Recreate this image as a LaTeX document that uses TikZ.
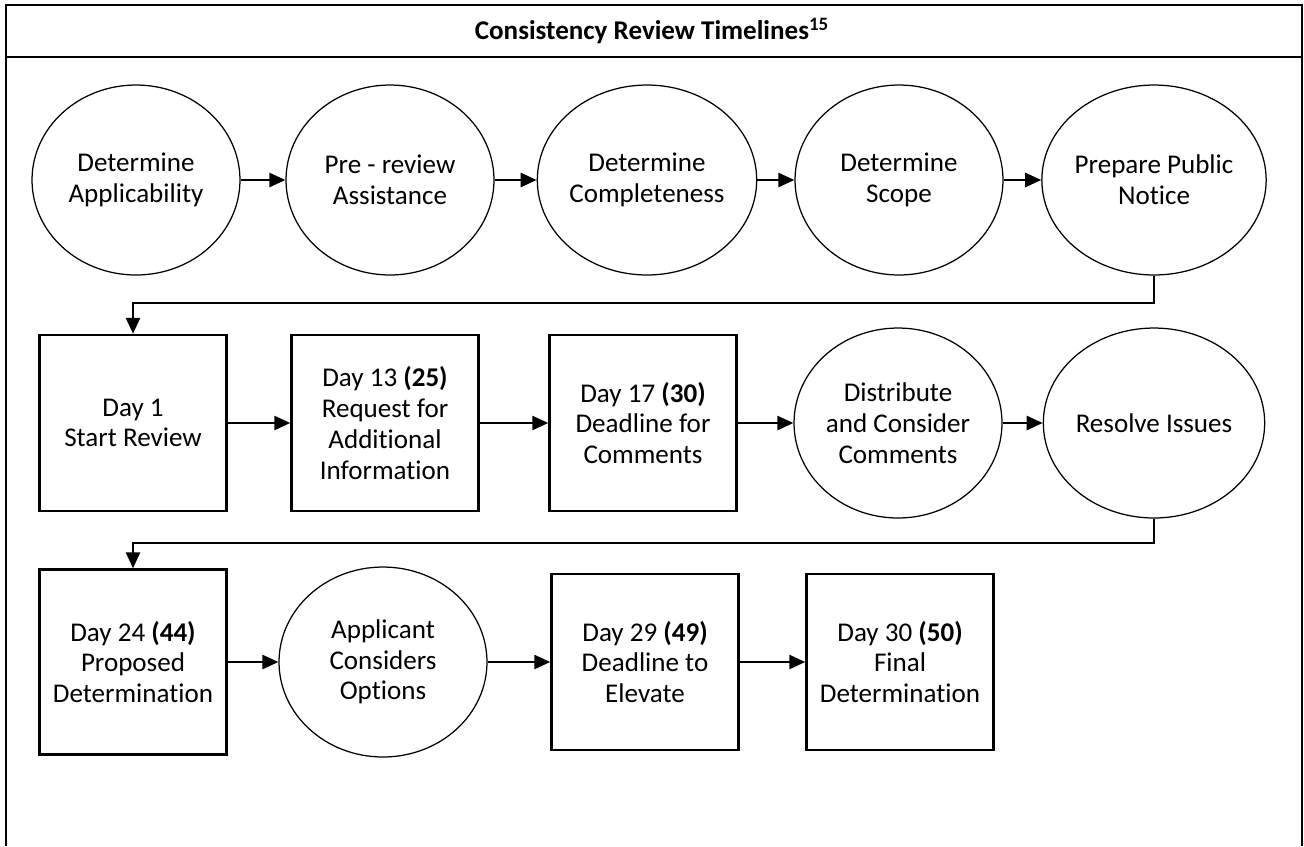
\documentclass[tikz,border=0pt]{standalone}
\usepackage{fontspec}
\setmainfont{Carlito}[Ligatures=NoCommon]
\usetikzlibrary{shapes.geometric,arrows.meta}

\begin{document}
\begin{tikzpicture}[x=0.02cm, y=-0.02cm, font=\fontsize{15.4}{17.5}\selectfont]
\tikzstyle{st}=[ellipse, draw, line width=0.025cm, minimum width=4.16cm, minimum height=3.8cm, inner sep=0pt, align=center]
\tikzstyle{dy}=[rectangle, draw, line width=0.05cm, minimum width=3.74cm, minimum height=3.52cm, inner sep=2pt, align=center]
\tikzstyle{arr}=[-{Triangle[length=0.32cm,width=0.28cm]}, line width=0.05cm]
\tikzstyle{frm}=[line width=0.045cm]

\useasboundingbox (0,0) rectangle (1304,846);
\draw[frm] (6,846) -- (6,5) -- (1302,5) -- (1302,846);
\draw[frm] (6,57) -- (1302,57);
\node (T) at (652,31) {\bfseries Consistency Review Timelines\textsuperscript{15}};

% first row
\node[st] (S1) at (136,180) {Determine\\Applicability};
\node[st] (S2) at (390,180) {Pre - review\\Assistance};
\node[st] (S3) at (647,180) {Determine\\Completeness};
\node[st] (S4) at (899,180) {Determine\\Scope};
\node[st] (S5) at (1154,180) {Prepare Public\\Notice};

% second row
\node[dy] (S6) at (133,423) {Day 1\\Start Review};
\node[dy] (S7) at (385,423) {Day 13 \textbf{(25)}\\Request for\\Additional\\Information};
\node[dy] (S8) at (643,423) {Day 17 \textbf{(30)}\\Deadline for\\Comments};
\node[st] (S9) at (898,423) {Distribute\\and Consider\\Comments};
\node[st] (S10) at (1154,423) {Resolve Issues};

% third row
\node[dy, minimum height=3.7cm] (S11) at (133,662) {Day 24 \textbf{(44)}\\Proposed\\Determination};
\node[st] (S12) at (383,662) {Applicant\\Considers\\Options};
\node[dy] (S13) at (645,662) {Day 29 \textbf{(49)}\\Deadline to\\Elevate};
\node[dy] (S14) at (900,662) {Day 30 \textbf{(50)}\\Final\\Determination};

\coordinate (C1) at (1154,303);
\coordinate (C2) at (1154,543);

\draw[arr] (S1) edge (S2);
\draw[arr] (S2) edge (S3);
\draw[arr] (S3) edge (S4);
\draw[arr] (S4) edge (S5);
\draw[arr] (S5) -- (C1) -| (S6);
\draw[arr] (S6) edge (S7);
\draw[arr] (S7) edge (S8);
\draw[arr] (S8) edge (S9);
\draw[arr] (S9) edge (S10);
\draw[arr] (S10) -- (C2) -| (S11);
\draw[arr] (S11) edge (S12);
\draw[arr] (S12) edge (S13);
\draw[arr] (S13) edge (S14);
\end{tikzpicture}
\end{document}
